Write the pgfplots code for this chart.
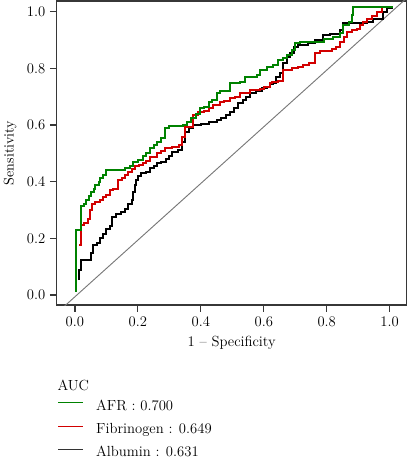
\documentclass[border=0pt]{standalone}
\usepackage{pgfplots}
\pgfplotsset{compat=1.18}
\definecolor{rocgreen}{RGB}{0,130,0}
\definecolor{rocred}{RGB}{210,0,0}
\definecolor{axisgray}{RGB}{55,55,55}
\definecolor{diaggray}{RGB}{120,120,120}
\begin{document}
\begin{tikzpicture}
\begin{axis}[
  at={(42.5pt,114.75pt)}, anchor=south west,
  scale only axis, width=262.5pt, height=228pt,
  xmin=-0.058, xmax=1.054, ymin=-0.035, ymax=1.038,
  xtick={0,0.2,0.4,0.6,0.8,1.0}, ytick={0,0.2,0.4,0.6,0.8,1.0},
  xticklabels={0.0,0.2,0.4,0.6,0.8,1.0},
  yticklabels={0.0,0.2,0.4,0.6,0.8,1.0},
  xtick pos=bottom, ytick pos=left,
  tick align=outside, major tick length=5pt,
  every tick/.style={axisgray, line width=0.9pt},
  axis line style={axisgray, line width=0.9pt},
  tick label style={font=\fontsize{11}{13}\selectfont},
  xlabel={1 -- Specificity}, ylabel={Sensitivity},
  every axis x label/.style={at={(axis description cs:0.5,-0.125)}, anchor=center, font=\fontsize{11}{13}\selectfont},
  every axis y label/.style={at={(axis description cs:-0.1333,0.5)}, anchor=center, rotate=90, font=\fontsize{10.5}{13}\selectfont},
  clip=true,
  legend style={at={(axis description cs:0.0019,-0.3105)}, anchor=north west,
    draw=none, fill=none, inner sep=0pt, row sep=7pt, column sep=9.5pt,
    font=\fontsize{11}{13}\selectfont,
    nodes={inner sep=0pt, text height=8pt, text depth=2.5pt}},
  legend cell align=left,
  legend image code/.code={\draw[#1, line width=0.7pt] (0pt,3pt) -- (18.75pt,3pt);},
]
% diagonal reference
\addplot[diaggray, line width=0.7pt, forget plot] coordinates {(-0.1,-0.106) (1.1,1.094)};
% Albumin (black)
\addplot[black, line width=1.5pt, const plot, forget plot] coordinates {
(0.013,0.053) (0.013,0.09) (0.018,0.124) (0.04,0.124) (0.05,0.15) (0.058,0.176)
(0.07,0.185) (0.08,0.20) (0.09,0.215) (0.10,0.235) (0.11,0.245) (0.117,0.276)
(0.13,0.285) (0.145,0.295) (0.16,0.305) (0.17,0.32) (0.18,0.335) (0.185,0.365)
(0.19,0.39) (0.195,0.406) (0.20,0.42) (0.21,0.43) (0.225,0.435) (0.238,0.447)
(0.25,0.455) (0.26,0.465) (0.275,0.47) (0.29,0.48) (0.30,0.49) (0.307,0.506)
(0.328,0.512) (0.34,0.54) (0.35,0.576) (0.362,0.59) (0.376,0.600) (0.40,0.605)
(0.425,0.61) (0.45,0.618) (0.465,0.625) (0.48,0.635) (0.492,0.647) (0.505,0.66)
(0.519,0.677) (0.535,0.69) (0.545,0.70) (0.556,0.712) (0.575,0.72) (0.595,0.73)
(0.609,0.735) (0.62,0.745) (0.63,0.75) (0.64,0.77) (0.651,0.783) (0.662,0.818)
(0.673,0.84) (0.683,0.853) (0.695,0.875) (0.71,0.882) (0.74,0.89) (0.763,0.9)
(0.789,0.918) (0.81,0.92) (0.842,0.935) (0.853,0.959) (0.88,0.962) (0.927,0.965)
(0.948,0.976) (0.98,1.0) (0.99,1.012) (1.011,1.012)};
% Fibrinogen (red)
\addplot[rocred, line width=1.5pt, const plot, forget plot] coordinates {
(0.013,0.176) (0.018,0.247) (0.03,0.255) (0.04,0.27) (0.048,0.30) (0.055,0.32)
(0.064,0.329) (0.08,0.335) (0.09,0.345) (0.10,0.355) (0.11,0.37) (0.12,0.375)
(0.137,0.406) (0.15,0.415) (0.16,0.425) (0.17,0.435) (0.18,0.445) (0.19,0.455)
(0.205,0.46) (0.215,0.465) (0.225,0.475) (0.238,0.488) (0.26,0.50) (0.275,0.51)
(0.286,0.518) (0.307,0.524) (0.33,0.53) (0.339,0.559) (0.35,0.594) (0.376,0.635)
(0.39,0.645) (0.41,0.65) (0.425,0.66) (0.44,0.671) (0.46,0.68) (0.475,0.685)
(0.492,0.694) (0.51,0.70) (0.524,0.712) (0.556,0.724) (0.588,0.726) (0.60,0.735)
(0.62,0.747) (0.625,0.753) (0.645,0.756) (0.662,0.794) (0.69,0.80) (0.71,0.805)
(0.725,0.812) (0.745,0.82) (0.763,0.853) (0.78,0.86) (0.80,0.862) (0.816,0.867)
(0.83,0.875) (0.842,0.894) (0.855,0.91) (0.863,0.929) (0.88,0.935) (0.895,0.94)
(0.906,0.953) (0.915,0.965) (0.927,0.976) (0.945,0.985) (0.959,1.0) (0.975,1.017)
(1.011,1.017)};
% AFR (green)
\addplot[rocgreen, line width=1.5pt, const plot, forget plot] coordinates {
(0.005,0.012) (0.005,0.229) (0.018,0.314) (0.030,0.32) (0.035,0.335) (0.045,0.35)
(0.050,0.365) (0.060,0.375) (0.065,0.39) (0.075,0.40) (0.080,0.415) (0.090,0.425)
(0.100,0.441) (0.159,0.448) (0.175,0.455) (0.185,0.47) (0.20,0.478) (0.215,0.49)
(0.225,0.50) (0.238,0.518) (0.25,0.528) (0.262,0.54) (0.275,0.555) (0.286,0.589)
(0.30,0.597) (0.344,0.600) (0.355,0.61) (0.37,0.625) (0.385,0.64) (0.397,0.659)
(0.41,0.665) (0.425,0.68) (0.434,0.688) (0.45,0.712) (0.461,0.721) (0.493,0.747)
(0.524,0.753) (0.54,0.77) (0.577,0.777) (0.588,0.794) (0.61,0.805) (0.63,0.812)
(0.645,0.83) (0.661,0.836) (0.675,0.848) (0.69,0.865) (0.70,0.888) (0.715,0.894)
(0.78,0.894) (0.79,0.905) (0.82,0.91) (0.842,0.924) (0.852,0.953) (0.87,0.965)
(0.879,0.988) (0.884,1.018) (1.011,1.018)};
% legend entries
\addlegendimage{rocgreen}\addlegendentry{AFR : 0.700}
\addlegendimage{rocred}\addlegendentry{Fibrinogen : 0.649}
\addlegendimage{black!80}\addlegendentry{Albumin : 0.631}
\end{axis}
\node[anchor=west, inner sep=0pt, font=\fontsize{11}{13}\selectfont] at (43pt,54.75pt) {AUC};
\pgfresetboundingbox
\useasboundingbox (0,0) rectangle (306pt,343.5pt);
\end{tikzpicture}
\end{document}
